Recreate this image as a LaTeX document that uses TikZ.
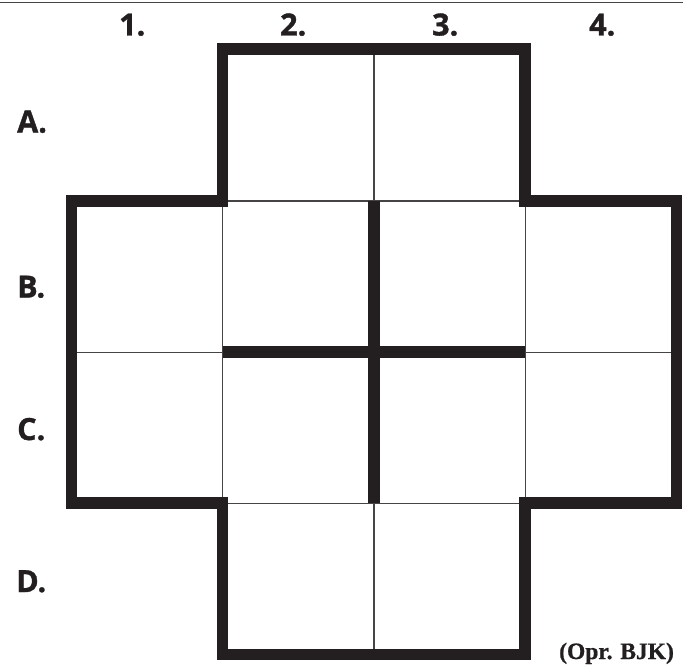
\documentclass[tikz,border=0pt]{standalone}
\usepackage{fontspec}
\setmainfont{Open Sans}[BoldFeatures={FakeBold=1.2}]
\newfontfamily\serifbold{Liberation Serif}[BoldFeatures={FakeBold=0.8}]
\definecolor{ink}{RGB}{35,31,32}
\definecolor{thin}{RGB}{70,68,68}
\begin{document}
\begin{tikzpicture}[x=1pt,y=-1pt,
  thinline/.style={draw=thin,line width=0.9pt},
  thickline/.style={draw=ink,line width=11.8pt,line join=miter,line cap=butt},
  lbl/.style={anchor=base west,inner sep=0pt,font=\fontsize{30.5}{31}\selectfont\bfseries,text=ink},
  credit/.style={anchor=base west,inner sep=0pt,font=\fontsize{23.5}{24}\selectfont\serifbold\bfseries,text=ink}]
\useasboundingbox (0,0) rectangle (693,666);
% top rule
\draw[draw=thin,line width=1.3pt] (0,2.6) -- (683,2.6);
% thin cell borders
\foreach \x/\y in {222.5/49, 374/49,
                   71.5/201, 222.5/201, 374/201, 525/201,
                   71.5/352, 222.5/352, 374/352, 525/352,
                   222.5/503, 374/503}{
  \pgfmathsetmacro{\xx}{\x+151}
  \pgfmathsetmacro{\yy}{\y+151}
  \draw[thinline] (\x,\y) rectangle (\xx,\yy);
}
% thick outline
\draw[thickline] (222.5,201) -- (222.5,49) -- (525,49) -- (525,201) -- (676.5,201)
  -- (676.5,503) -- (525,503) -- (525,654.5) -- (222.5,654.5) -- (222.5,503)
  -- (71.5,503) -- (71.5,201) -- cycle;
% thick interior walls
\draw[thickline] (374,201) -- (374,503);
\draw[thickline] (222.5,352) -- (525,352);
% labels
\node[lbl] (c1) at (119,35.5) {1.};
\node[lbl] (c2) at (280,35.5) {2.};
\node[lbl] (c3) at (432,35.5) {3.};
\node[lbl] (c4) at (589,35.5) {4.};
\node[lbl] (rA) at (17,132.5) {A.};
\node[lbl] (rB) at (17,297.5) {B.};
\node[lbl] (rC) at (17,440) {C.};
\node[lbl] (rD) at (16,592) {D.};
\node[credit] (cr) at (559,659) {(Opr. BJK)};
\end{tikzpicture}
\end{document}
